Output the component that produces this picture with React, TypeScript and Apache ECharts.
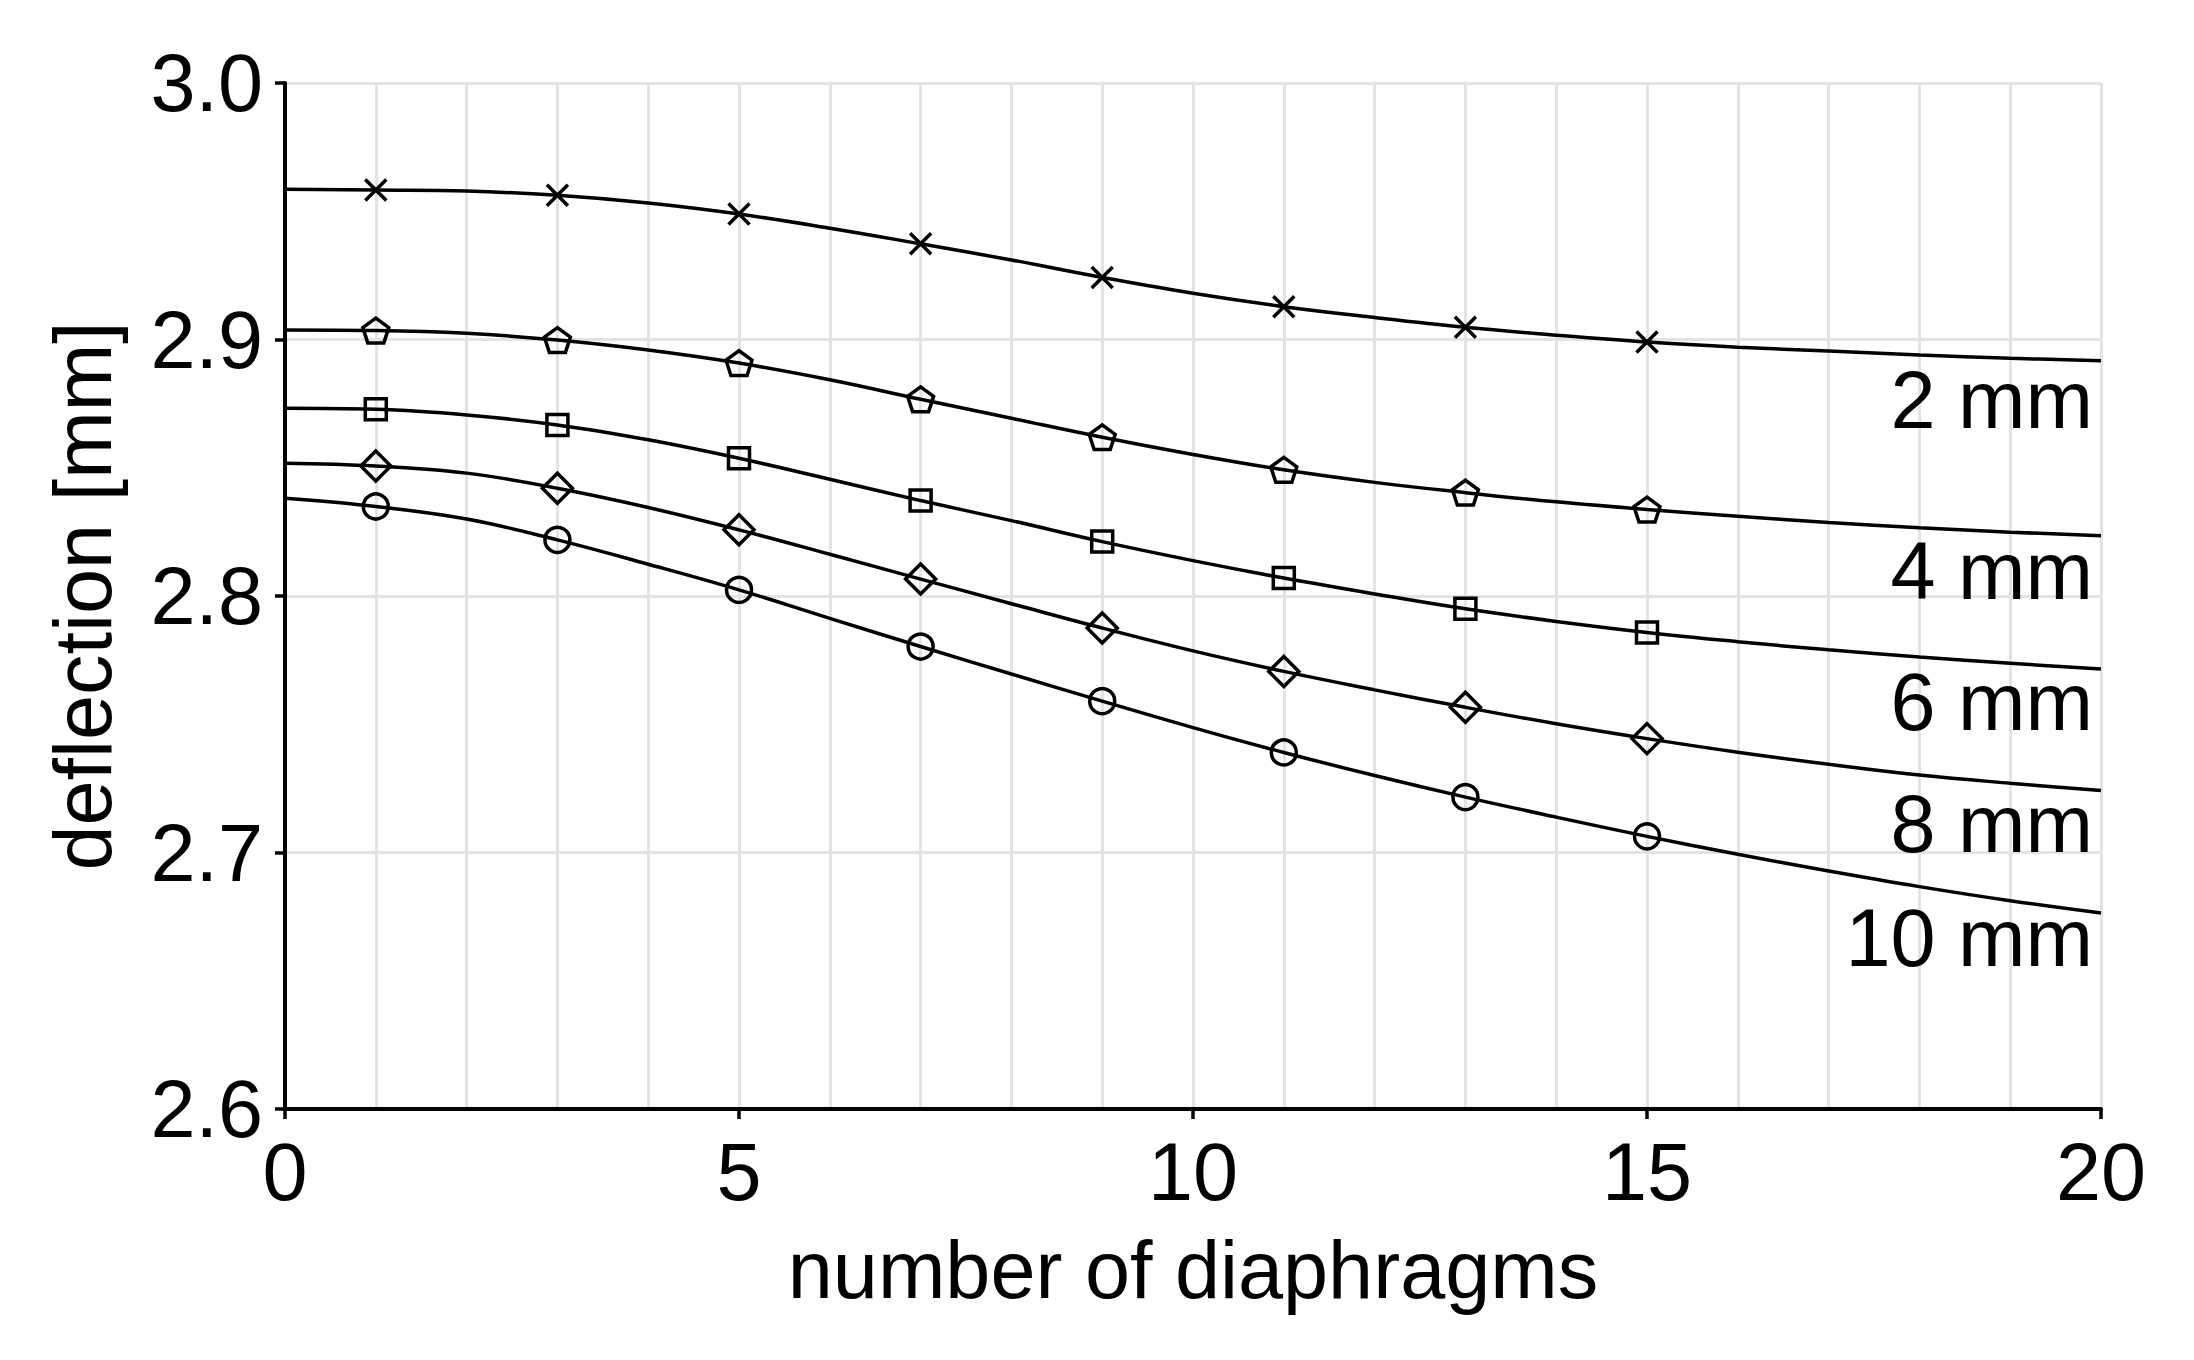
import React, { useEffect, useRef } from "react";
import * as echarts from "echarts";

const xValues = [0, 1, 2, 3, 4, 5, 6, 7, 8, 9, 10, 11, 12, 13, 14, 15, 16, 17, 18, 19, 20];
const markerXs = [1, 3, 5, 7, 9, 11, 13, 15];

const d2mm = [2.9586, 2.9583, 2.9579, 2.9562, 2.9532, 2.9489, 2.9434, 2.9373, 2.931, 2.9242, 2.9180, 2.9128, 2.9086, 2.9048, 2.9017, 2.899, 2.897, 2.8955, 2.894, 2.8927, 2.8917];
const d4mm = [2.9037, 2.9035, 2.9024, 2.8998, 2.8959, 2.8908, 2.8843, 2.8767, 2.8693, 2.8619, 2.8552, 2.8492, 2.8443, 2.8403, 2.8367, 2.8337, 2.8311, 2.8287, 2.8266, 2.8249, 2.8235];
const d6mm = [2.8732, 2.8728, 2.8706, 2.8667, 2.8609, 2.8537, 2.8455, 2.8372, 2.8294, 2.8212, 2.8138, 2.807, 2.8008, 2.795, 2.7901, 2.7858, 2.7822, 2.7790, 2.7762, 2.7738, 2.7715];
const d8mm = [2.8518, 2.8507, 2.8479, 2.842, 2.8345, 2.8258, 2.8163, 2.8066, 2.7970, 2.7875, 2.7786, 2.7706, 2.7634, 2.7566, 2.7502, 2.7444, 2.7391, 2.7344, 2.7302, 2.7270, 2.7242];
const d10mm = [2.8381, 2.8349, 2.8300, 2.8219, 2.8124, 2.8024, 2.7913, 2.7803, 2.7696, 2.7590, 2.7487, 2.7390, 2.7300, 2.7216, 2.7138, 2.7063, 2.6993, 2.6928, 2.6867, 2.6812, 2.6764];

const seriesNames = ["2 mm", "4 mm", "6 mm", "8 mm", "10 mm"];
const yTicks = { min: 2.6, max: 3.0, interval: 0.1 };
const xTicks = { min: 0, max: 20, interval: 5 };

const FONT = "'Liberation Sans', Arial, Helvetica, sans-serif";

const CROSS = "path://M0,0L10,10M10,0L0,10";
const PENTAGON = "path://M10,0L19.51,6.91L15.88,18.09L4.12,18.09L0.49,6.91Z";

const symbols: { symbol: string; size: number | number[] }[] = [
  { symbol: CROSS, size: 21 },
  { symbol: PENTAGON, size: 26 },
  { symbol: "rect", size: 21 },
  { symbol: "diamond", size: [30, 30] },
  { symbol: "circle", size: 25 },
];

const allData = [d2mm, d4mm, d6mm, d8mm, d10mm];

// label positions (pixels) for the right-hand series labels
const labelYs = [399, 570, 701, 823, 937];

export default function App() {
  const ref = useRef<HTMLDivElement>(null);
  useEffect(() => {
    if (!ref.current) return;
    const chart = echarts.init(ref.current, undefined, { renderer: "svg" });
    const series = allData.map((vals, si) => ({
      type: "line",
      name: seriesNames[si],
      smooth: 0.4,
      showSymbol: true,
      showAllSymbol: true,
      symbolKeepAspect: true,
      symbol: symbols[si].symbol,
      symbolSize: symbols[si].size,
      lineStyle: { color: "#000", width: 3.5 },
      itemStyle: { color: "rgba(0,0,0,0)", borderColor: "#000", borderWidth: 3.5 },
      data: xValues.map((x, i) => ({
        value: [x, vals[i]],
        symbol: markerXs.includes(x) ? symbols[si].symbol : "none",
      })),
      z: 3,
    }));
    chart.setOption({
      animation: false,
      backgroundColor: "#fff",
      grid: { left: 285, right: 93, top: 83, bottom: 251, containLabel: false },
      xAxis: {
        type: "value",
        min: xTicks.min,
        max: xTicks.max,
        interval: xTicks.interval,
        name: "number of diaphragms",
        nameLocation: "middle",
        nameGap: 120,
        nameTextStyle: { fontSize: 81, color: "#000", fontFamily: FONT },
        axisLine: { show: true, onZero: false, lineStyle: { color: "#000", width: 4 } },
        axisTick: { show: true, inside: false, length: 10, lineStyle: { color: "#000", width: 3.5 } },
        axisLabel: { fontSize: 81, color: "#000", fontFamily: FONT, margin: 22 },
        splitLine: { show: true, lineStyle: { color: "#e3e3e3", width: 3 } },
        minorTick: { show: false, splitNumber: 5 },
        minorSplitLine: { show: true, lineStyle: { color: "#e3e3e3", width: 3 } },
      },
      yAxis: {
        type: "value",
        min: yTicks.min,
        max: yTicks.max,
        interval: yTicks.interval,
        name: "deflection [mm]",
        nameLocation: "middle",
        nameGap: 162,
        nameTextStyle: { fontSize: 81, color: "#000", fontFamily: FONT },
        axisLine: { show: true, lineStyle: { color: "#000", width: 4 } },
        axisTick: { show: true, inside: false, length: 10, lineStyle: { color: "#000", width: 3.5 } },
        axisLabel: {
          fontSize: 81,
          color: "#000",
          fontFamily: FONT,
          margin: 22,
          formatter: (v: number) => v.toFixed(1),
        },
        splitLine: { show: true, lineStyle: { color: "#e3e3e3", width: 3 } },
      },
      graphic: seriesNames.map((name, i) => ({
        type: "text",
        right: 2194 - 2093,
        top: labelYs[i] - 40,
        z: 10,
        style: {
          text: name,
          fontSize: 81,
          fontFamily: FONT,
          fill: "#000",
          textAlign: "right",
        },
      })),
      series,
    });
    return () => chart.dispose();
  }, []);
  return (
    <div
      ref={ref}
      style={{ position: "fixed", left: 0, top: 0, width: 2194, height: 1360, background: "#fff" }}
    />
  );
}
